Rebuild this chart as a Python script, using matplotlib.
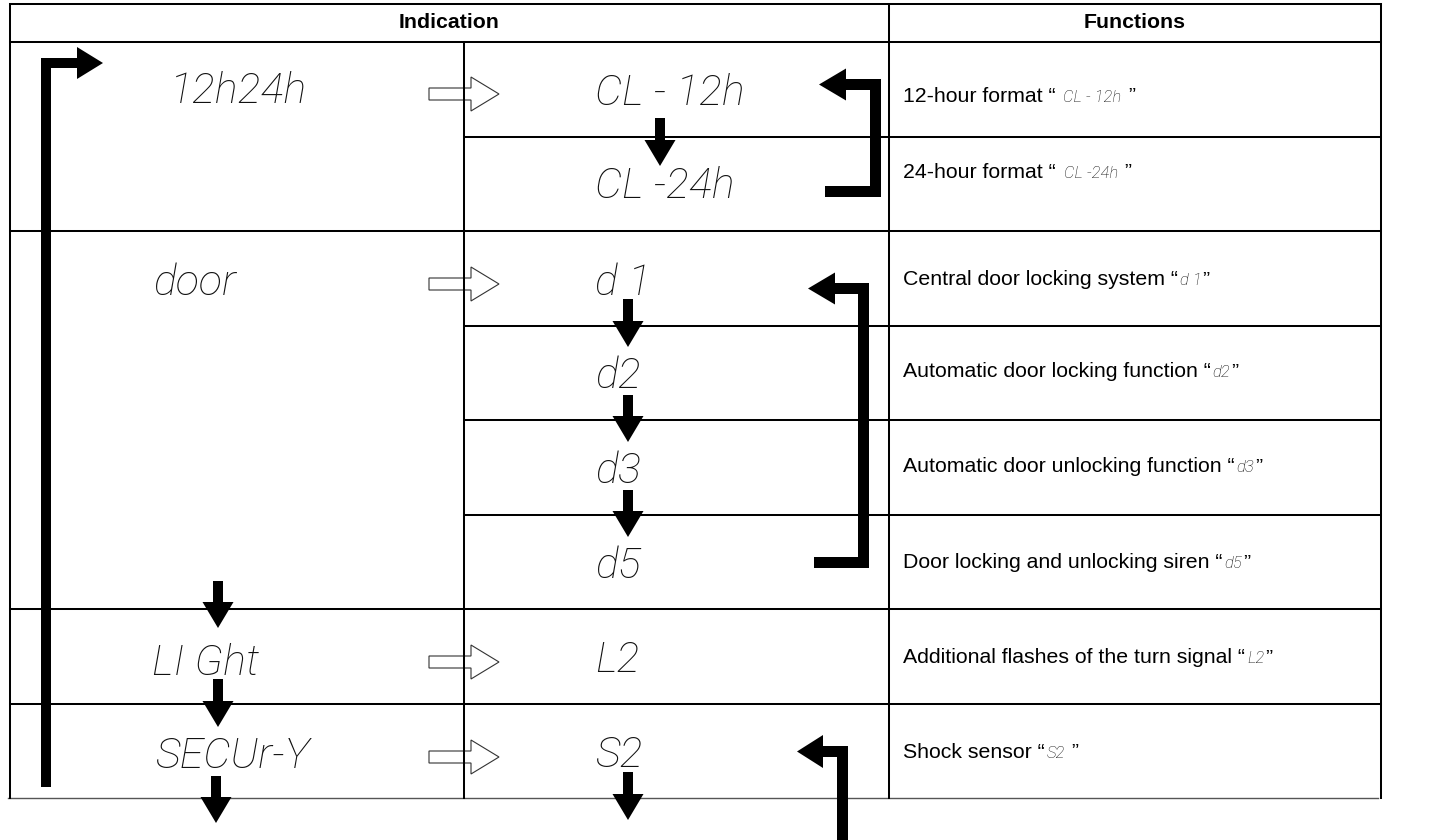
import matplotlib
matplotlib.use("Agg")
import matplotlib.pyplot as plt
from matplotlib.patches import Polygon

# ---------------------------------------------------------------------------
# Content
# ---------------------------------------------------------------------------
groups = ["12h24h", "door", "LI Ght", "SECUr-Y"]
settings = ["CL - 12h", "CL -24h", "d 1", "d2", "d3", "d5", "L2", "S2"]
func_prefix = [
    "12-hour format \u201c ",
    "24-hour format \u201c ",
    "Central door locking system \u201c",
    "Automatic door locking function \u201c",
    "Automatic door unlocking function \u201c",
    "Door locking and unlocking siren \u201c",
    "Additional flashes of the turn signal \u201c",
    "Shock sensor \u201c",
]
func_suffix = [" \u201d", " \u201d", "\u201d", "\u201d", "\u201d", "\u201d", "\u201d", " \u201d"]
headers = ["Indication", "Functions"]

# ---------------------------------------------------------------------------
# Layout (pixels, y downwards)
# ---------------------------------------------------------------------------
W, H = 1439, 840
X_LEFT, X_MID, X_FUNC, X_RIGHT = 10, 464, 889, 1381
Y_TOP, Y_HEAD, Y_BOT = 4, 42, 798
full_rows = [231, 609, 704]
sub_rows = [137, 326, 420, 515]

group_xy = [(170, 103), (153, 295), (152, 675), (155, 768)]
setting_base = [105, 198, 295, 388, 483, 578, 672, 767]
setting_x = 595
func_base = [102, 178, 285, 377, 472, 568, 663, 758]
hollow_y = [94, 284, 662, 757]

LW = 1.45
LCD = dict(family=["Roboto", "DejaVu Sans"], style="italic", weight="light", color="#111111")
BODY = dict(family=["Liberation Sans", "Arial", "DejaVu Sans"], fontsize=15.3)

fig = plt.figure(figsize=(W / 100, H / 100), dpi=100)
ax = fig.add_axes([0, 0, 1, 1])
ax.set_xlim(0, W)
ax.set_ylim(H, 0)
ax.axis("off")


def hline(y, x0, x1, **kw):
    ax.plot([x0, x1], [y, y], color=kw.get("color", "black"), lw=kw.get("lw", LW),
            solid_capstyle="projecting", zorder=3)


def vline(x, y0, y1):
    ax.plot([x, x], [y0, y1], color="black", lw=LW, solid_capstyle="projecting", zorder=3)


def poly(pts, fc="black", ec="none", lw=0, z=4):
    ax.add_patch(Polygon(pts, closed=True, fc=fc, ec=ec, lw=lw, zorder=z))


def down_arrow(xc, y0, tip, stem=10, head_w=31, head_len=26):
    yb = tip - head_len
    poly([(xc - stem / 2, y0), (xc + stem / 2, y0), (xc + stem / 2, yb),
          (xc + head_w / 2, yb), (xc, tip), (xc - head_w / 2, yb),
          (xc - stem / 2, yb)])


def bracket(xr, yt, yb, tip, x_end, t=11, head_len=27, half=16):
    yc = yt + t / 2
    poly([(xr, yt), (xr, yb), (x_end, yb), (x_end, yb - t), (xr - t, yb - t),
          (xr - t, yt + t), (tip + head_len, yt + t), (tip + head_len, yc + half),
          (tip, yc), (tip + head_len, yc - half), (tip + head_len, yt)])


def hollow_arrow(yc, x0=429, tip=499, head_len=28, half=17, body=6):
    xb = tip - head_len
    poly([(x0, yc - body), (xb, yc - body), (xb, yc - half), (tip, yc),
          (xb, yc + half), (xb, yc + body), (x0, yc + body)],
         fc="white", ec="#333333", lw=0.8, z=2)


# table grid
for y in [Y_TOP, Y_HEAD] + full_rows:
    hline(y, X_LEFT, X_RIGHT)
for y in sub_rows:
    hline(y, X_MID, X_RIGHT)
hline(Y_BOT, 8, 1378, color="#555555", lw=1.0)
vline(X_LEFT, Y_TOP, Y_BOT)
vline(X_MID, Y_HEAD, Y_BOT)
vline(X_FUNC, Y_TOP, Y_BOT)
vline(X_RIGHT, Y_TOP, Y_BOT)

# headers
ax.text((X_LEFT + X_FUNC) / 2, 23, headers[0], ha="center", va="center",
        fontweight="bold", **BODY)
ax.text((X_FUNC + X_RIGHT) / 2, 23, headers[1], ha="center", va="center",
        fontweight="bold", **BODY)

# display words
for word, (x, y) in zip(groups, group_xy):
    ax.text(x, y, word, ha="left", va="baseline", fontsize=31, **LCD)
for word, y in zip(settings, setting_base):
    ax.text(setting_x, y, word, ha="left", va="baseline", fontsize=31, **LCD)

# function descriptions: plain text + small display code + closing quote
renderer = fig.canvas.get_renderer()
for pre, code, suf, y in zip(func_prefix, settings, func_suffix, func_base):
    t1 = ax.text(903, y, pre, ha="left", va="baseline", **BODY)
    x = t1.get_window_extent(renderer).x1 + 2
    t2 = ax.text(x, y, code, ha="left", va="baseline", fontsize=12, **LCD)
    x = t2.get_window_extent(renderer).x1 + 1
    ax.text(x, y, suf, ha="left", va="baseline", **BODY)

# arrows
for y in hollow_y:
    hollow_arrow(y)
for xc, y0, tip in [(660, 118, 166), (628, 299, 347), (628, 395, 442),
                    (628, 490, 537), (628, 772, 820), (218, 581, 628),
                    (218, 679, 727), (216, 776, 823)]:
    down_arrow(xc, y0, tip)

# loop back arrow on the left
poly([(41, 787), (41, 58), (77, 58), (77, 47), (103, 63), (77, 79),
      (77, 68), (51, 68), (51, 787)])
bracket(881, 79, 197, 819, 825)
bracket(869, 283, 568, 808, 814)
poly([(848, 840), (848, 746), (823, 746), (823, 735), (797, 751.5),
      (823, 768), (823, 757), (837, 757), (837, 840)])

fig.savefig("out.png", dpi=100)
